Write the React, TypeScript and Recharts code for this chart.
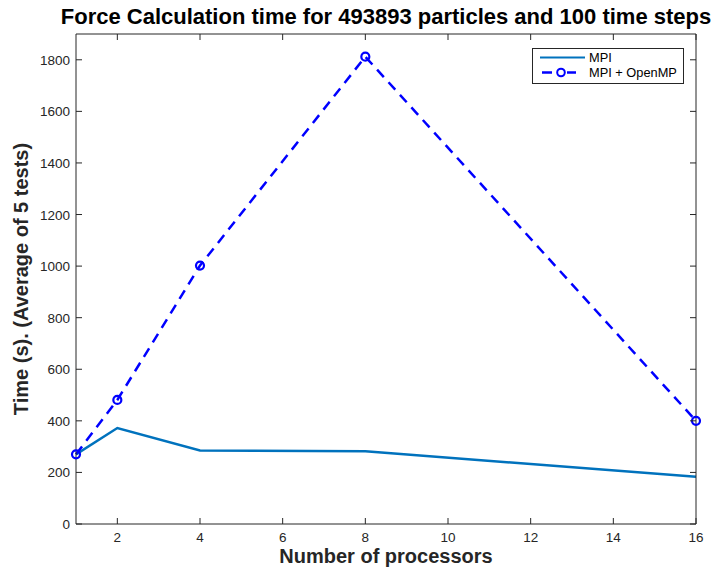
import { LineChart, Line, XAxis, YAxis, Legend } from "recharts"

const processors = [1, 2, 4, 8, 16]
const mpiTimes = [270, 372, 285, 282, 183]
const hybridTimes = [270, 481, 1002, 1812, 400]
const xTicks = [2, 4, 6, 8, 10, 12, 14, 16]
const yTicks = [0, 200, 400, 600, 800, 1000, 1200, 1400, 1600, 1800]

const data = processors.map((p, i) => ({ procs: p, mpi: mpiTimes[i], hybrid: hybridTimes[i] }))

const FONT = "'Liberation Sans', Arial, Helvetica, sans-serif"
const AXIS = "#262626"
const TICK_LEN = 6

function BottomTick({ x, y, payload }: any) {
  return (
    <g>
      <line x1={x} x2={x} y1={y} y2={y - TICK_LEN} stroke={AXIS} />
      <text x={x} y={y + 17.5} textAnchor="middle" fontSize={13.5} fill={AXIS} fontFamily={FONT}>
        {payload.value}
      </text>
    </g>
  )
}

function TopTick({ x, y }: any) {
  return <line x1={x} x2={x} y1={y} y2={y + TICK_LEN} stroke={AXIS} />
}

function LeftTick({ x, y, payload }: any) {
  return (
    <g>
      <line x1={x} x2={x + TICK_LEN} y1={y} y2={y} stroke={AXIS} />
      <text x={x - 6} y={y + 5} textAnchor="end" fontSize={13.5} fill={AXIS} fontFamily={FONT}>
        {payload.value}
      </text>
    </g>
  )
}

function RightTick({ x, y }: any) {
  return <line x1={x} x2={x - TICK_LEN} y1={y} y2={y} stroke={AXIS} />
}

function LegendBox({ payload }: any) {
  const items = payload ?? []
  return (
    <svg width={152} height={36} style={{ display: "block" }}>
      <rect x={0.5} y={0.5} width={151} height={35} fill="#fff" stroke={AXIS} />
      {items.map((item: any, i: number) => {
        const cy = 9.5 + i * 15
        const dashed = item.dataKey === "hybrid"
        return (
          <g key={item.value}>
            {dashed ? (
              <>
                <line x1={10} x2={20} y1={cy} y2={cy} stroke={item.color} strokeWidth={2.5} />
                <line x1={35} x2={44} y1={cy} y2={cy} stroke={item.color} strokeWidth={2.5} />
                <circle cx={29} cy={cy} r={3.8} fill="none" stroke={item.color} strokeWidth={2} />
              </>
            ) : (
              <line x1={8} x2={53} y1={cy} y2={cy} stroke={item.color} strokeWidth={2.2} />
            )}
            <text x={57} y={cy + 4.5} fontSize={12.8} fill="#000" fontFamily={FONT}>
              {item.value}
            </text>
          </g>
        )
      })}
    </svg>
  )
}

export default function App() {
  return (
    <div style={{ position: "absolute", left: 0, top: 0, width: 724, height: 568, background: "#fff" }}>
      <LineChart
        width={724}
        height={568}
        data={data}
        margin={{ top: 33, right: 27, bottom: 0, left: 16 }}
      >
        <XAxis
          dataKey="procs"
          type="number"
          domain={[1, 16]}
          ticks={xTicks}
          height={44}
          tickSize={0}
          tickMargin={0}
          tickLine={false}
          axisLine={{ stroke: AXIS }}
          tick={<BottomTick />}
          interval={0}
          label={{
            value: "Number of processors",
            position: "insideBottom",
            offset: 5,
            fill: "#262626",
            fontSize: 20,
            fontWeight: "bold",
            fontFamily: FONT,
          }}
        />
        <XAxis
          xAxisId="top"
          dataKey="procs"
          orientation="top"
          type="number"
          domain={[1, 16]}
          ticks={xTicks}
          height={1}
          tickSize={0}
          tickMargin={0}
          tickLine={false}
          axisLine={{ stroke: AXIS }}
          tick={<TopTick />}
          interval={0}
          label={{
            value: "Force Calculation time for 493893 particles and 100 time steps",
            position: "top",
            offset: 9,
            fill: "#000",
            fontSize: 22,
            fontWeight: "bold",
            fontFamily: FONT,
          }}
        />
        <YAxis
          type="number"
          domain={[0, 1900]}
          ticks={yTicks}
          width={60}
          tickSize={0}
          tickMargin={0}
          tickLine={false}
          axisLine={{ stroke: AXIS }}
          tick={<LeftTick />}
          interval={0}
          label={{
            value: "Time (s). (Average of 5 tests)",
            angle: -90,
            position: "insideLeft",
            offset: 0,
            dx: 5,
            fill: "#262626",
            fontSize: 20,
            fontWeight: "bold",
            fontFamily: FONT,
            style: { textAnchor: "middle" },
          }}
        />
        <YAxis
          yAxisId="right"
          orientation="right"
          type="number"
          domain={[0, 1900]}
          ticks={yTicks}
          width={1}
          tickSize={0}
          tickMargin={0}
          tickLine={false}
          axisLine={{ stroke: AXIS }}
          tick={<RightTick />}
          interval={0}
        />
        <Legend
          layout="vertical"
          verticalAlign="middle"
          align="center"
          content={<LegendBox />}
          wrapperStyle={{ position: "absolute", left: 532, top: 48, width: 152, height: 36 }}
        />
        {/* same domains on both axis pairs, so the solid line can carry the top/right axes */}
        <Line
          dataKey="mpi"
          name="MPI"
          xAxisId="top"
          yAxisId="right"
          stroke="#0072BD"
          strokeWidth={2.4}
          dot={false}
          activeDot={false}
          isAnimationActive={false}
        />
        <Line
          dataKey="hybrid"
          name="MPI + OpenMP"
          stroke="#0000FF"
          strokeWidth={2.5}
          strokeDasharray="10 7"
          dot={{ r: 4, fill: "none", stroke: "#0000FF", strokeWidth: 2.2, strokeDasharray: "" }}
          activeDot={false}
          isAnimationActive={false}
        />
      </LineChart>
    </div>
  )
}
